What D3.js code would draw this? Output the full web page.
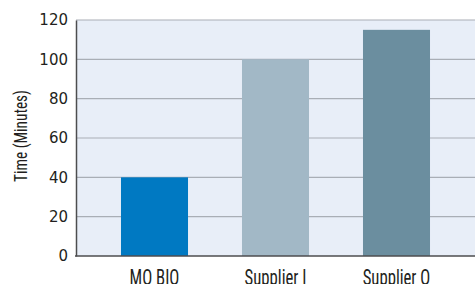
<!DOCTYPE html>
<html>
<head>
<meta charset="utf-8">
<script src="https://cdn.jsdelivr.net/npm/d3@7"></script>
<style>
  body { margin: 0; background: #fff; }
  .tick text { font-family: "DejaVu Sans", sans-serif; font-size: 15px; fill: #231f20; }
  .cat { font-family: "Roboto Condensed", "Liberation Sans Narrow", sans-serif; font-size: 22px; fill: #231f20; }
  .label { font-family: "Roboto Condensed", "Liberation Sans Narrow", sans-serif; font-size: 18px; fill: #231f20; }
</style>
</head>
<body>
<svg width="475" height="284"></svg>
<script>
var categories = ["MO BIO", "Supplier I", "Supplier Q"];
var times = [40, 100, 115];
var colors = ["#0079c2", "#a2b8c6", "#6b8e9f"];
var yTicks = [0, 20, 40, 60, 80, 100, 120];

var svg = d3.select("svg");

var xScale = d3.scaleBand()
    .domain(categories).range([94, 457])
    .paddingInner(0.446).paddingOuter(0.223);

var yScale = d3.scaleLinear()
    .domain([0, 120]).range([256, 20]);

// plot background
svg.append("rect")
    .attr("x", 76).attr("y", yScale(120))
    .attr("width", 475 - 76).attr("height", yScale(0) - yScale(120))
    .attr("fill", "#e8eef8");

// gridlines
svg.selectAll(".grid")
    .data(yTicks.slice(1))
    .enter()
    .append("line")
    .attr("class", "grid")
    .attr("x1", 76).attr("x2", 475)
    .attr("y1", function(d) { return yScale(d); })
    .attr("y2", function(d) { return yScale(d); })
    .attr("stroke", "#a9aeb6")
    .attr("stroke-width", 1.2);

svg.selectAll(".bar")
    .data(times)
    .enter()
    .append("rect")
    .attr("class", "bar")
    .attr("x", function(d, i) { return xScale(categories[i]); })
    .attr("width", xScale.bandwidth())
    .attr("y", function(d) { return yScale(d); })
    .attr("height", function(d) { return yScale(0) - yScale(d); })
    .attr("fill", function(d, i) { return colors[i]; });

// y axis
var yAxis = svg.append("g")
    .attr("transform", "translate(76,0)")
    .call(d3.axisLeft(yScale).tickValues(yTicks).tickSize(0).tickPadding(8));
yAxis.select(".domain").attr("stroke", "#4d4d4f").attr("stroke-width", 1.5);

// x axis line
svg.append("line")
    .attr("x1", 75).attr("x2", 475)
    .attr("y1", yScale(0)).attr("y2", yScale(0))
    .attr("stroke", "#4d4d4f").attr("stroke-width", 1.5);

// squeezed category labels, running off the bottom edge like the original
svg.selectAll(".cat")
    .data(categories)
    .enter()
    .append("text")
    .attr("class", "cat")
    .attr("text-anchor", "middle")
    .attr("transform", function(d) {
        return "translate(" + (xScale(d) + xScale.bandwidth() / 2) + ",285) scale(0.76,1)";
    })
    .text(function(d) { return d; });

svg.append("text")
    .attr("class", "label")
    .attr("text-anchor", "middle")
    .attr("transform", "translate(27,136) rotate(-90) scale(0.85,1)")
    .text("Time (Minutes)");
</script>
</body>
</html>
